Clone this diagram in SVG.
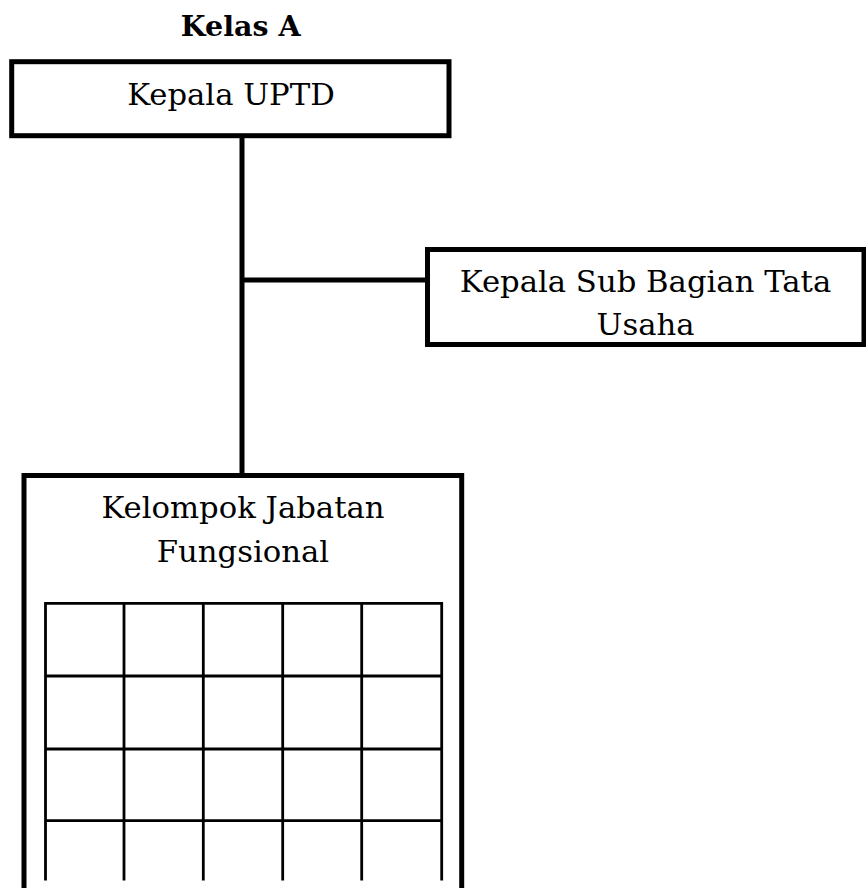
<svg xmlns="http://www.w3.org/2000/svg" width="866" height="888" viewBox="0 0 866 888">
  <style>
    .box { fill: #ffffff; stroke: #000000; stroke-width: 5; }
    .conn { stroke: #000000; stroke-width: 5; fill: none; }
    .grid { stroke: #000000; stroke-width: 2.8; fill: none; }
    .lbl { font-family: "DejaVu Serif", "Liberation Serif", serif; font-size: 30.7px; fill: #000000; text-anchor: middle; }
    .title { font-family: "DejaVu Serif", "Liberation Serif", serif; font-size: 28.5px; font-weight: bold; fill: #000000; text-anchor: middle; }
  </style>
  <rect width="866" height="888" fill="#ffffff"/>
  <text class="title" x="240.7" y="36">Kelas A</text>
  <g id="connectors">
    <line class="conn" x1="242" y1="136" x2="242" y2="476"/>
    <line class="conn" x1="242" y1="280" x2="428" y2="280"/>
  </g>
  <g id="kepala-uptd">
    <rect class="box" x="11.7" y="61.7" width="437.3" height="74"/>
    <text class="lbl" x="231" y="105">Kepala UPTD</text>
  </g>
  <g id="kasubag-tu">
    <rect class="box" x="427.5" y="249.5" width="436.5" height="95"/>
    <text class="lbl" x="645.5" y="291.7">Kepala Sub Bagian Tata</text>
    <text class="lbl" x="645.5" y="335">Usaha</text>
  </g>
  <g id="kelompok-jabatan-fungsional">
    <rect class="box" x="24" y="475.5" width="437.7" height="430"/>
    <text class="lbl" x="243" y="518">Kelompok Jabatan</text>
    <text class="lbl" x="243" y="561.7">Fungsional</text>
    <g id="grid">
      <line class="grid" x1="45.5" y1="603.3" x2="441.7" y2="603.3"/>
      <line class="grid" x1="45.5" y1="676" x2="441.7" y2="676"/>
      <line class="grid" x1="45.5" y1="749" x2="441.7" y2="749"/>
      <line class="grid" x1="45.5" y1="820.7" x2="441.7" y2="820.7"/>
      <line class="grid" x1="45.5" y1="602" x2="45.5" y2="880.5"/>
      <line class="grid" x1="124" y1="602" x2="124" y2="880.5"/>
      <line class="grid" x1="203.3" y1="602" x2="203.3" y2="880.5"/>
      <line class="grid" x1="282.7" y1="602" x2="282.7" y2="880.5"/>
      <line class="grid" x1="361.7" y1="602" x2="361.7" y2="880.5"/>
      <line class="grid" x1="441.7" y1="602" x2="441.7" y2="880.5"/>
    </g>
  </g>
</svg>
